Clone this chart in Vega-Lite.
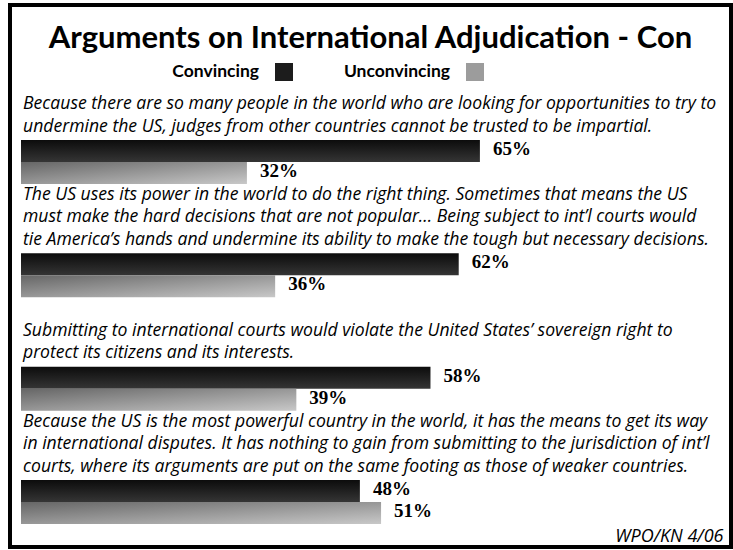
{
  "$schema": "https://vega.github.io/schema/vega-lite/v6.json",
  "width": 721,
  "height": 542,
  "autosize": {"type": "none"},
  "padding": {"left": 10, "top": 5, "right": 2, "bottom": 3},
  "background": "white",
  "config": {
    "view": {"stroke": "black", "strokeWidth": 4, "fill": "white"},
    "font": "Lato"
  },
  "title": {
    "text": "Arguments on International Adjudication - Con",
    "font": "Lato",
    "fontSize": 31,
    "fontWeight": "bold",
    "color": "black",
    "anchor": "middle",
    "frame": "group",
    "baseline": "alphabetic",
    "offset": -74
  },
  "datasets": {
    "bars": [
      {"q": "Q1", "s": "Convincing", "v": 0.65},
      {"q": "Q1", "s": "Unconvincing", "v": 0.32},
      {"q": "Q2", "s": "Convincing", "v": 0.62},
      {"q": "Q2", "s": "Unconvincing", "v": 0.36},
      {"q": "Q3", "s": "Convincing", "v": 0.58},
      {"q": "Q3", "s": "Unconvincing", "v": 0.39},
      {"q": "Q4", "s": "Convincing", "v": 0.48},
      {"q": "Q4", "s": "Unconvincing", "v": 0.51}
    ],
    "statements": [
      {"q": "Q1", "t": "Because there are so many people in the world who are looking for opportunities to try to\nundermine the US, judges from other countries cannot be trusted to be impartial."},
      {"q": "Q2", "t": "The US uses its power in the world to do the right thing.  Sometimes that means the US\nmust make the hard decisions that are not popular...  Being subject to int’l courts would\ntie America’s hands and undermine its ability to make the tough but necessary decisions."},
      {"q": "Q3", "t": "Submitting to international courts would violate the United States’ sovereign right to\nprotect its citizens and its interests."},
      {"q": "Q4", "t": "Because the US is the most powerful country in the world, it has the means to get its way\nin international disputes.  It has nothing to gain from submitting to the jurisdiction of int’l\ncourts, where its arguments are put on the same footing as those of weaker countries."}
    ]
  },
  "data": {"name": "bars"},
  "encoding": {
    "x": {
      "type": "quantitative",
      "scale": {"domain": [0, 1], "range": [11, 717]},
      "axis": {
        "domain": false, "ticks": false, "labels": false, "grid": false,
        "title": "WPO/KN 4/06",
        "titleFont": "Open Sans", "titleFontSize": 18, "titleFontStyle": "italic", "titleFontWeight": "normal",
        "titleColor": "black", "titleAnchor": "end", "titleAlign": "right", "titleBaseline": "alphabetic",
        "titleX": 713, "titleY": -6
      }
    },
    "y": {
      "field": "q", "type": "nominal",
      "scale": {"range": [135, 519], "paddingInner": 0.612, "paddingOuter": 0},
      "axis": null
    }
  },
  "layer": [
    {
      "transform": [{"filter": "datum.s === 'Convincing'"}],
      "mark": {
        "type": "bar",
        "fill": {"gradient": "linear", "x1": 0, "y1": 0, "x2": 0, "y2": 1,
          "stops": [{"offset": 0, "color": "#0c0c0c"}, {"offset": 1, "color": "#353535"}]}
      },
      "encoding": {
        "x": {"field": "v", "type": "quantitative"},
        "yOffset": {"field": "s", "type": "nominal", "scale": {"domain": ["Convincing", "Unconvincing"], "paddingInner": 0, "paddingOuter": 0}}
      }
    },
    {
      "transform": [{"filter": "datum.s === 'Unconvincing'"}],
      "mark": {
        "type": "bar",
        "fill": {"gradient": "linear", "x1": 0, "y1": 0, "x2": 1, "y2": 1,
          "stops": [{"offset": 0, "color": "#666666"}, {"offset": 1, "color": "#c8c8c8"}]}
      },
      "encoding": {
        "x": {"field": "v", "type": "quantitative"},
        "yOffset": {"field": "s", "type": "nominal", "scale": {"domain": ["Convincing", "Unconvincing"], "paddingInner": 0, "paddingOuter": 0}}
      }
    },
    {
      "mark": {"type": "text", "align": "left", "baseline": "middle", "dx": 13, "dy": -2,
        "font": "Liberation Serif", "fontSize": 19, "fontWeight": "bold", "color": "black"},
      "encoding": {
        "x": {"field": "v", "type": "quantitative"},
        "yOffset": {"field": "s", "type": "nominal", "scale": {"domain": ["Convincing", "Unconvincing"], "paddingInner": 0, "paddingOuter": 0}},
        "text": {"field": "v", "type": "quantitative", "format": ".0%"}
      }
    },
    {
      "mark": {"type": "square", "opacity": 0},
      "encoding": {
        "color": {
          "field": "s", "type": "nominal",
          "scale": {"domain": ["Convincing", "Unconvincing"], "range": ["#1c1c1c", "#9c9c9c"]},
          "legend": {
            "orient": "none", "legendX": 265, "legendY": 58,
            "direction": "horizontal", "title": null,
            "symbolType": "square", "symbolSize": 324, "symbolStrokeWidth": 0, "symbolOpacity": 1,
            "labelAlign": "right", "labelOffset": -34, "labelBaseline": "middle",
            "labelFont": "Lato", "labelFontSize": 17.5, "labelFontWeight": "bold", "labelColor": "black",
            "labelLimit": 300, "columnPadding": 50
          }
        }
      }
    },
    {
      "data": {"name": "statements"},
      "transform": [{"filter": "datum.q === 'Q1' || datum.q === 'Q3'"}],
      "mark": {"type": "text", "align": "left", "baseline": "bottom", "dx": 2, "dy": -27,
        "font": "Open Sans", "fontSize": 17.6, "fontStyle": "italic", "lineBreak": "\n", "lineHeight": 22.5, "color": "black"},
      "encoding": {
        "x": {"datum": 0},
        "y": {"field": "q", "type": "nominal", "bandPosition": 0},
        "text": {"field": "t", "type": "nominal"}
      }
    },
    {
      "data": {"name": "statements"},
      "transform": [{"filter": "datum.q === 'Q2' || datum.q === 'Q4'"}],
      "mark": {"type": "text", "align": "left", "baseline": "bottom", "dx": 2, "dy": -49.5,
        "font": "Open Sans", "fontSize": 17.6, "fontStyle": "italic", "lineBreak": "\n", "lineHeight": 22.5, "color": "black"},
      "encoding": {
        "x": {"datum": 0},
        "y": {"field": "q", "type": "nominal", "bandPosition": 0},
        "text": {"field": "t", "type": "nominal"}
      }
    }
  ]
}
